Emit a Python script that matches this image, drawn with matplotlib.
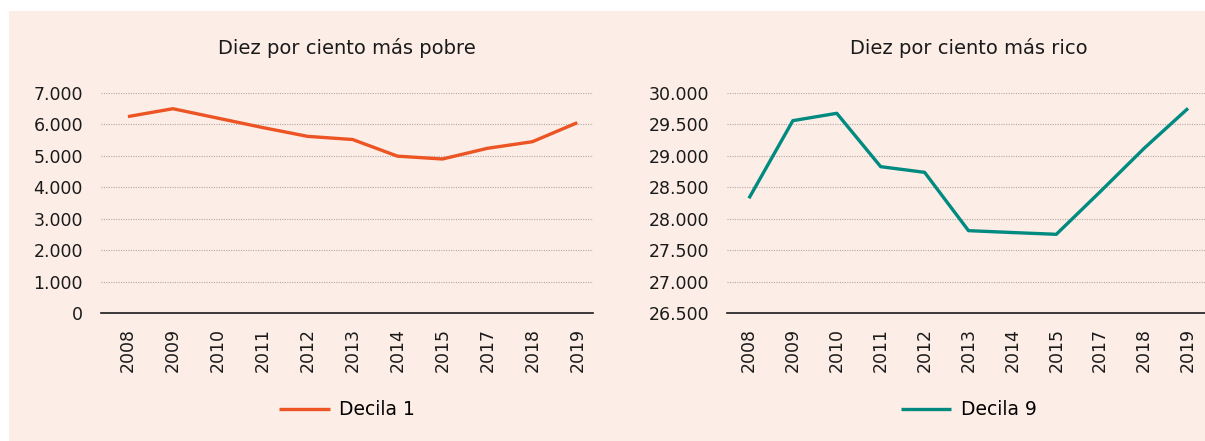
import matplotlib
matplotlib.use("Agg")
import matplotlib.pyplot as plt
from matplotlib.patches import Rectangle
from matplotlib.ticker import FuncFormatter

plt.rcParams['font.family'] = ['DejaVu Sans']

years = ['2008', '2009', '2010', '2011', '2012', '2013', '2014', '2015', '2017', '2018', '2019']
decila1 = [6250, 6500, 6200, 5900, 5620, 5520, 4990, 4900, 5240, 5450, 6055]
decila9 = [28325, 29560, 29677, 28828, 28738, 27810, 27780, 27752, 28430, 29120, 29756]

bg = '#fcede6'
orange = '#ec5424'
teal = '#008a80'


def thousands(v, pos):
    return f"{int(round(v)):,}".replace(',', '.')


fig = plt.figure(figsize=(12.05, 4.41), dpi=100)
fig.patches.append(Rectangle((9 / 1205, 0), 1, 1 - 11 / 441, transform=fig.transFigure,
                             facecolor=bg, edgecolor='none', zorder=-10))

ax1 = fig.add_axes([101 / 1205, 1 - 313 / 441, 492 / 1205, 220 / 441])
ax2 = fig.add_axes([727 / 1205, 1 - 313 / 441, 483 / 1205, 220 / 441])

panels = [
    (ax1, decila1, orange, 'Decila 1', 'Diez por ciento más pobre', (0, 7000, 1000), (-0.6, 10.35)),
    (ax2, decila9, teal, 'Decila 9', 'Diez por ciento más rico', (26500, 30000, 500), (-0.5, 10.5)),
]

for ax, vals, col, lab, title, (lo, hi, step), xl in panels:
    ax.set_facecolor('none')
    x = list(range(len(years)))
    ax.plot(x, vals, color=col, lw=2.4, label=lab, solid_capstyle='butt')
    ax.set_xlim(*xl)
    ax.set_ylim(lo, hi)
    ticks = list(range(lo, hi + 1, step))
    ax.set_yticks(ticks)
    ax.yaxis.set_major_formatter(FuncFormatter(thousands))
    for t in ticks[1:]:
        ax.axhline(t, color='#b0aaa6', lw=0.8, ls=(0, (1, 1.2)), zorder=0)
    ax.set_xticks(x)
    ax.set_xticklabels(years, rotation=90, fontsize=12.5)
    ax.tick_params(axis='y', length=0, pad=13, labelsize=12.5, colors='#1a1a1a')
    ax.tick_params(axis='x', length=0, pad=11, colors='#1a1a1a')
    for s in ['top', 'right', 'left']:
        ax.spines[s].set_visible(False)
    ax.spines['bottom'].set_color('#1a1a1a')
    ax.spines['bottom'].set_linewidth(1.2)
    ax.set_title(title, fontsize=14, pad=28, color='#1a1a1a')
    ax.legend(loc='center', bbox_to_anchor=(0.5, -0.44), frameon=False,
              fontsize=13.5, handlelength=2.7, handletextpad=0.5)

fig.savefig('out.png', dpi=100)
